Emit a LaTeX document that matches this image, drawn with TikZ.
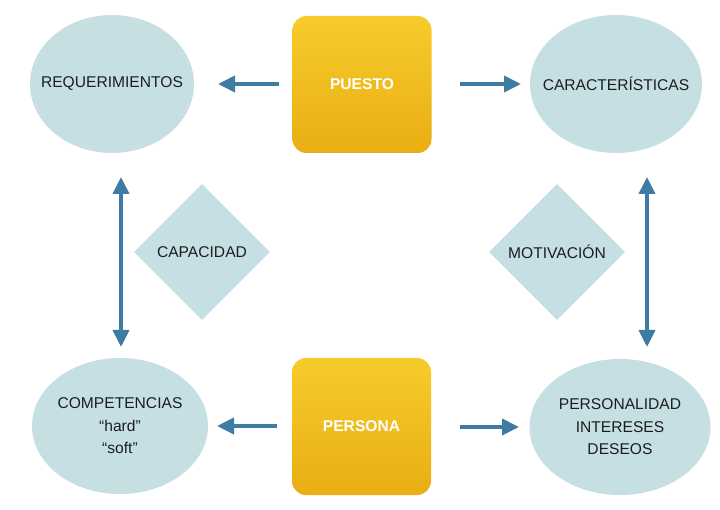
\documentclass[tikz,border=0pt]{standalone}
\usepackage{fontspec}
\setmainfont{Liberation Sans}
\usetikzlibrary{shapes.geometric,arrows.meta,calc}
\definecolor{bub}{HTML}{C6DFE3}
\definecolor{arrc}{HTML}{3F7BA3}
\definecolor{goldtop}{HTML}{F7CB2C}
\definecolor{goldbot}{HTML}{E9AE14}
\definecolor{txt}{HTML}{1A1E21}
\newcommand{\zw}[1]{\makebox[0pt]{#1}}
\tikzset{
  bubble/.style={ellipse, fill=bub, inner sep=0pt, text=txt, align=center,
    font=\fontsize{15.6}{22.5}\selectfont},
  goldbox/.style={rectangle, rounded corners=14pt, top color=goldtop, bottom color=goldbot,
    minimum width=139pt, minimum height=137pt, inner sep=0pt, text=white,
    font=\fontsize{15.6}{18}\selectfont\bfseries},
  diam/.style={diamond, fill=bub, inner sep=0pt, minimum width=136pt, minimum height=136pt,
    text=txt, font=\fontsize{15.6}{18}\selectfont},
  arr/.style={draw=arrc, line width=3.8pt, -{Triangle[length=17pt,width=16pt]}},
  darr/.style={draw=arrc, line width=3.8pt, {Triangle[length=17pt,width=16pt]}-{Triangle[length=17pt,width=16pt]}}
}
\begin{document}
\begin{tikzpicture}[x=1pt,y=-1pt]
\useasboundingbox (0,0) rectangle (720,510);
\fill[white] (0,0) rectangle (720,510);
% nodes
\node[bubble, minimum width=164pt, minimum height=138pt] (req) at (112,84) {\zw{REQUERIMIENTOS}};
\node[bubble, minimum width=172pt, minimum height=138pt] (car) at (616,84) {\zw{CARACTERÍSTICAS}};
\node[bubble, minimum width=176pt, minimum height=136pt] (comp) at (120,426) {\zw{COMPETENCIAS}\\\zw{“hard”}\\\zw{“soft”}};
\node[bubble, minimum width=181pt, minimum height=136pt] (pers) at (620,427) {\zw{PERSONALIDAD}\\\zw{INTERESES}\\\zw{DESEOS}};
\node[goldbox] (puesto) at (362,84.5) {PUESTO};
\node[goldbox] (persona) at (361.5,426.5) {PERSONA};
\node[diam] (cap) at (202,252) {\zw{CAPACIDAD}};
\node[diam] (mot) at (557,252) {\zw{MOTIVACIÓN}};
% arrow end points
\coordinate (a1s) at (279,84);  \coordinate (a1e) at (218,84);
\coordinate (a2s) at (460,84);  \coordinate (a2e) at (521,84);
\coordinate (a3s) at (277,426); \coordinate (a3e) at (217,426);
\coordinate (a4s) at (460,427); \coordinate (a4e) at (519,427);
\coordinate (v1t) at (121,177); \coordinate (v1b) at (121,347);
\coordinate (v2t) at (647,177); \coordinate (v2b) at (647,347);
% connectors
\draw[arr] (a1s) -- (a1e);
\draw[arr] (a2s) -- (a2e);
\draw[arr] (a3s) -- (a3e);
\draw[arr] (a4s) -- (a4e);
\draw[darr] (v1t) -- (v1b);
\draw[darr] (v2t) -- (v2b);
\end{tikzpicture}
\end{document}
